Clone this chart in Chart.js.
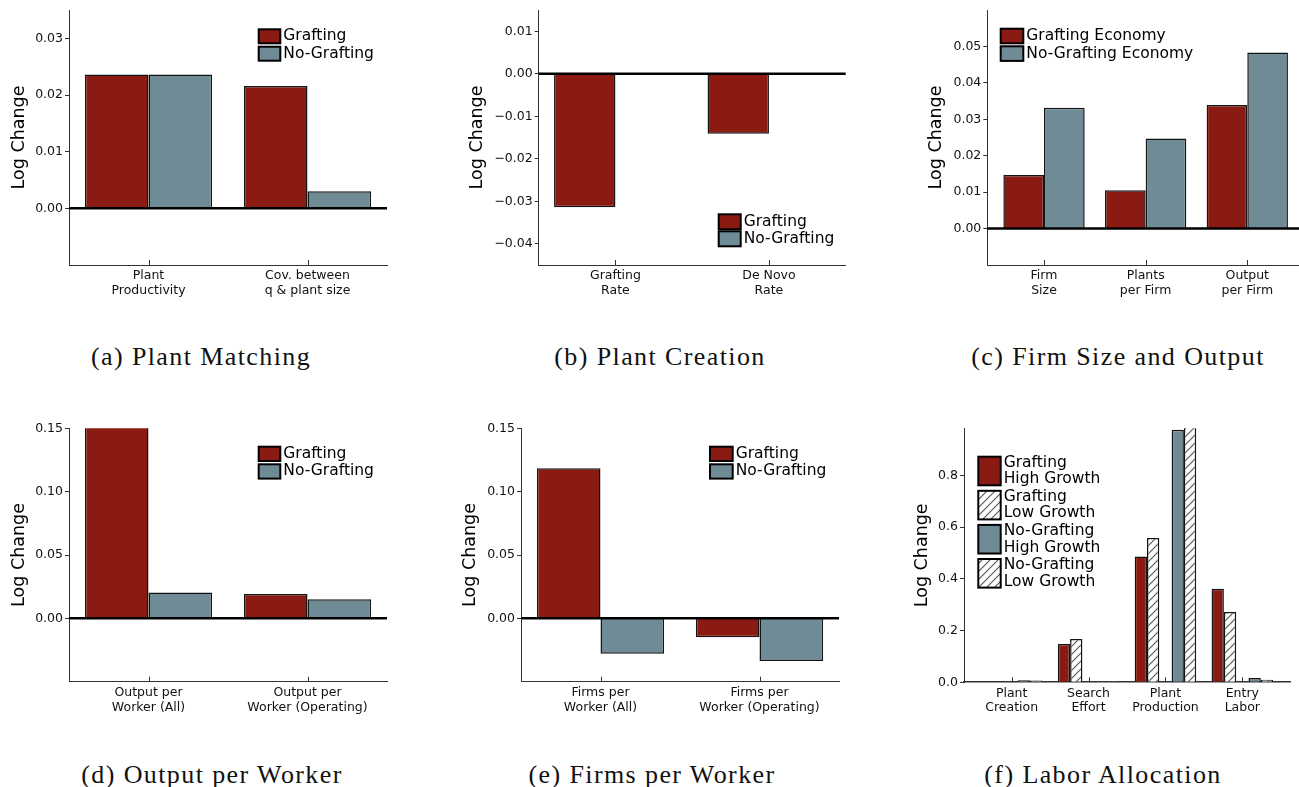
<!DOCTYPE html>
<html>
<head>
<meta charset="utf-8">
<script src="https://cdn.jsdelivr.net/npm/chart.js@4.4.1/dist/chart.umd.min.js"></script>
<style>
  html, body { margin: 0; padding: 0; background: #fff; overflow: hidden; width: 1299px; height: 787px; }
  canvas { position: absolute; }
  .cap { position: absolute; font-family: 'Liberation Serif', serif; font-size: 26px; letter-spacing: 1.4px;
         color: #111; white-space: nowrap; transform: translate(-50%, -50%); }
</style>
</head>
<body>
<canvas id="chartA"></canvas>
<canvas id="chartB"></canvas>
<canvas id="chartC"></canvas>
<canvas id="chartD"></canvas>
<canvas id="chartE"></canvas>
<canvas id="chartF"></canvas>

<div class="cap" style="left:201px;top:357px">(a) Plant Matching</div>
<div class="cap" style="left:660px;top:357px">(b) Plant Creation</div>
<div class="cap" style="left:1118px;top:357px">(c) Firm Size and Output</div>
<div class="cap" style="left:212px;top:775px">(d) Output per Worker</div>
<div class="cap" style="left:652px;top:775px">(e) Firms per Worker</div>
<div class="cap" style="left:1103px;top:775px">(f) Labor Allocation</div>

<script>
// ---- data ----
const catsA = [['Plant', 'Productivity'], ['Cov. between', 'q & plant size']];
const graftA = [0.0236, 0.0216];
const noGraftA = [0.0236, 0.0030];
const yTicksA = [0, 0.01, 0.02, 0.03];

const catsB = [['Grafting', 'Rate'], ['De Novo', 'Rate']];
const graftB = [-0.0314, -0.0141];
const noGraftB = [0, 0];
const yTicksB = [-0.04, -0.03, -0.02, -0.01, 0, 0.01];

const catsC = [['Firm', 'Size'], ['Plants', 'per Firm'], ['Output', 'per Firm']];
const graftC = [0.0147, 0.0105, 0.0339];
const noGraftC = [0.0332, 0.0247, 0.0483];
const yTicksC = [0, 0.01, 0.02, 0.03, 0.04, 0.05];

const catsD = [['Output per', 'Worker (All)'], ['Output per', 'Worker (Operating)']];
const graftD = [0.16, 0.0192];   // first bar runs off the top of the axis
const noGraftD = [0.0205, 0.0150];
const yTicksD = [0, 0.05, 0.10, 0.15];

const catsE = [['Firms per', 'Worker (All)'], ['Firms per', 'Worker (Operating)']];
const graftE = [0.1185, -0.0150];
const noGraftE = [-0.0280, -0.0337];
const yTicksE = [0, 0.05, 0.10, 0.15];

const catsF = [['Plant', 'Creation'], ['Search', 'Effort'], ['Plant', 'Production'], ['Entry', 'Labor']];
const graftHighF = [0.003, 0.148, 0.486, 0.362];
const graftLowF = [0.003, 0.167, 0.558, 0.272];
const noGraftHighF = [0.008, 0.001, 0.976, 0.017];
const noGraftLowF = [0.007, 0.001, 0.990, 0.010];
const yTicksF = [0, 0.2, 0.4, 0.6, 0.8];

const RED = '#8b1a12';
const GRAY = '#6f8b96';

Chart.defaults.font.family = '"DejaVu Sans", sans-serif';
Chart.defaults.color = '#111';

function hatchPattern(ctx) {
  const c = document.createElement('canvas');
  c.width = 8; c.height = 8;
  const g = c.getContext('2d');
  g.fillStyle = '#fff';
  g.fillRect(0, 0, 8, 8);
  g.strokeStyle = '#555';
  g.lineWidth = 1.1;
  g.beginPath();
  g.moveTo(0, 8); g.lineTo(8, 0);
  g.moveTo(-2, 2); g.lineTo(2, -2);
  g.moveTo(6, 10); g.lineTo(10, 6);
  g.stroke();
  return ctx.createPattern(c, 'repeat');
}

// zero line, inward x ticks and the in-plot legend
const panelDecor = {
  id: 'panelDecor',
  afterDatasetsDraw(chart, args, opts) {
    const { ctx, chartArea, scales } = chart;
    ctx.save();
    ctx.strokeStyle = '#333';
    ctx.lineWidth = 1;
    opts.cats.forEach((c, i) => {
      const px = Math.round(scales.x.getPixelForValue(i)) + 0.5;
      ctx.beginPath();
      ctx.moveTo(px, chartArea.bottom);
      ctx.lineTo(px, chartArea.bottom - 5);
      ctx.stroke();
    });
    if (opts.zeroLine) {
      const y0 = scales.y.getPixelForValue(0);
      ctx.strokeStyle = '#000';
      ctx.lineWidth = opts.zeroLine;
      ctx.beginPath();
      ctx.moveTo(chartArea.left, y0);
      ctx.lineTo(chartArea.right, y0);
      ctx.stroke();
    }
    ctx.restore();
  },
  afterDraw(chart, args, opts) {
    const lg = opts.legend;
    const ctx = chart.ctx;
    ctx.save();
    ctx.font = '15.5px "DejaVu Sans"';
    ctx.textBaseline = 'middle';
    let k = 0;
    chart.data.datasets.forEach(ds => {
      if (!ds.label) return;
      const x = lg.x, y = lg.y + k * lg.step;
      ctx.fillStyle = ds.backgroundColor;
      ctx.fillRect(x, y, lg.w, lg.h);
      ctx.strokeStyle = '#000';
      ctx.lineWidth = 2;
      ctx.strokeRect(x, y, lg.w, lg.h);
      const lines = ds.label.split('\n');
      ctx.fillStyle = '#000';
      lines.forEach((t, j) => {
        ctx.fillText(t, x + lg.w + 3, y + lg.h / 2 + (j - (lines.length - 1) / 2) * lg.lineGap);
      });
      k++;
    });
    ctx.restore();
  }
};

function makePanel(id, p) {
  const cv = document.getElementById(id);
  cv.style.left = p.canvas.left + 'px';
  cv.style.top = p.canvas.top + 'px';
  cv.width = p.canvas.w;
  cv.height = p.canvas.h;
  const ctx = cv.getContext('2d');
  const yW = p.plot.l - p.canvas.left;
  const padTop = p.plot.t - p.canvas.top;
  const padRight = p.canvas.left + p.canvas.w - p.plot.r;
  const xH = p.canvas.top + p.canvas.h - p.plot.b;
  const fmt = v => (v < -1e-9 ? '\u2212' : '') + Math.abs(v).toFixed(p.dec);

  return new Chart(ctx, {
    type: 'bar',
    data: {
      datasets: p.series.map(s => ({
        label: s.label,
        data: s.values.map((v, i) => ({ x: i, y: v })),
        backgroundColor: s.hatch ? hatchPattern(ctx) : s.color,
        borderColor: '#141414',
        borderWidth: 1.5
      }))
    },
    options: {
      responsive: false,
      animation: false,
      layout: { padding: { left: 0, top: padTop, right: padRight, bottom: 0 } },
      datasets: { bar: { categoryPercentage: 0.8, barPercentage: 1 } },
      plugins: {
        legend: { display: false },
        tooltip: { enabled: false },
        panelDecor: {
          cats: p.cats,
          zeroLine: p.zeroLine,
          legend: {
            x: p.legend.x - p.canvas.left, y: p.legend.y - p.canvas.top,
            w: p.legend.w, h: p.legend.h, step: p.legend.step, lineGap: p.legend.lineGap || 0
          }
        }
      },
      scales: {
        x: {
          type: 'linear',
          offset: false,
          min: p.xMin,
          max: p.xMax,
          afterFit: s => { s.height = xH; },
          afterBuildTicks: s => { s.ticks = p.cats.map((c, i) => ({ value: i })); },
          ticks: {
            callback: v => p.cats[v],
            autoSkip: false, maxRotation: 0, minRotation: 0,
            padding: 4, color: '#111',
            font: { size: 12.5, lineHeight: 1.15 }
          },
          grid: { offset: false, drawOnChartArea: false, drawTicks: false },
          border: { display: true, color: '#333', width: p.xBorder || 1 }
        },
        y: {
          min: p.yMin,
          max: p.yMax,
          afterFit: s => { s.width = yW; },
          afterBuildTicks: s => { s.ticks = p.yTicks.map(v => ({ value: v })); },
          ticks: { callback: v => fmt(v), padding: 2, color: '#111', font: { size: 12.5 } },
          title: {
            display: true, text: 'Log Change', color: '#000',
            font: { size: 17.5 }, padding: { top: p.titlePad, bottom: 0 }
          },
          grid: { drawOnChartArea: false, tickLength: 4, tickColor: '#333', tickWidth: 1 },
          border: { display: true, color: '#333', width: 1 }
        }
      }
    },
    plugins: [panelDecor]
  });
}

makePanel('chartA', {
  canvas: { left: 0, top: 0, w: 400, h: 300 },
  plot: { l: 69, t: 10, r: 387, b: 265 },
  cats: catsA, xMin: -0.5, xMax: 1.5,
  yMin: -0.01, yMax: 0.035, yTicks: yTicksA, dec: 2, titlePad: 9, zeroLine: 2.5,
  series: [
    { label: 'Grafting', values: graftA, color: RED },
    { label: 'No-Grafting', values: noGraftA, color: GRAY }
  ],
  legend: { x: 258.7, y: 29.3, w: 21.6, h: 14, step: 17.4 }
});

makePanel('chartB', {
  canvas: { left: 440, top: 0, w: 420, h: 300 },
  plot: { l: 538.7, t: 10, r: 845.7, b: 265 },
  cats: catsB, xMin: -0.5, xMax: 1.5,
  yMin: -0.045, yMax: 0.015, yTicks: yTicksB, dec: 2, titlePad: 27.3, zeroLine: 2.5,
  series: [
    { label: 'Grafting', values: graftB, color: RED },
    { label: 'No-Grafting', values: noGraftB, color: GRAY }
  ],
  legend: { x: 718.7, y: 214.3, w: 22, h: 15, step: 17 }
});

makePanel('chartC', {
  canvas: { left: 900, top: 0, w: 410, h: 300 },
  plot: { l: 987.3, t: 10, r: 1304, b: 265 },
  cats: catsC, xMin: -0.558, xMax: 2.558,
  yMin: -0.01, yMax: 0.06, yTicks: yTicksC, dec: 2, titlePad: 26.2, zeroLine: 2.5,
  series: [
    { label: 'Grafting Economy', values: graftC, color: RED },
    { label: 'No-Grafting Economy', values: noGraftC, color: GRAY }
  ],
  legend: { x: 1000.7, y: 28.7, w: 22.6, h: 14.6, step: 17.6 }
});

makePanel('chartD', {
  canvas: { left: 0, top: 418, w: 400, h: 300 },
  plot: { l: 69, t: 428.3, r: 387, b: 681.7 },
  cats: catsD, xMin: -0.5, xMax: 1.5,
  yMin: -0.05, yMax: 0.15, yTicks: yTicksD, dec: 2, titlePad: 8.8, zeroLine: 2.5,
  series: [
    { label: 'Grafting', values: graftD, color: RED },
    { label: 'No-Grafting', values: noGraftD, color: GRAY }
  ],
  legend: { x: 258.7, y: 446.7, w: 21.6, h: 14.3, step: 17.6 }
});

makePanel('chartE', {
  canvas: { left: 440, top: 418, w: 420, h: 300 },
  plot: { l: 521, t: 428.3, r: 839, b: 681.7 },
  cats: catsE, xMin: -0.5, xMax: 1.5,
  yMin: -0.05, yMax: 0.15, yTicks: yTicksE, dec: 2, titlePad: 19.8, zeroLine: 2.5,
  series: [
    { label: 'Grafting', values: graftE, color: RED },
    { label: 'No-Grafting', values: noGraftE, color: GRAY }
  ],
  legend: { x: 710, y: 446.7, w: 22.7, h: 14.3, step: 17.6 }
});

makePanel('chartF', {
  canvas: { left: 900, top: 418, w: 399, h: 300 },
  plot: { l: 964, t: 428.3, r: 1290, b: 682.3 },
  cats: catsF, xMin: -0.62, xMax: 3.62,
  yMin: 0, yMax: 0.9816, yTicks: yTicksF, dec: 1, titlePad: 12.2, zeroLine: 0, xBorder: 1.6,
  series: [
    { label: 'Grafting\nHigh Growth', values: graftHighF, color: RED },
    { label: 'Grafting\nLow Growth', values: graftLowF, hatch: true },
    { label: '', values: catsF.map(() => null), color: 'rgba(0,0,0,0)' },
    { label: 'No-Grafting\nHigh Growth', values: noGraftHighF, color: GRAY },
    { label: 'No-Grafting\nLow Growth', values: noGraftLowF, hatch: true }
  ],
  legend: { x: 978.3, y: 456.7, w: 22.4, h: 28.6, step: 34.1, lineGap: 16.7 }
});
</script>
</body>
</html>
